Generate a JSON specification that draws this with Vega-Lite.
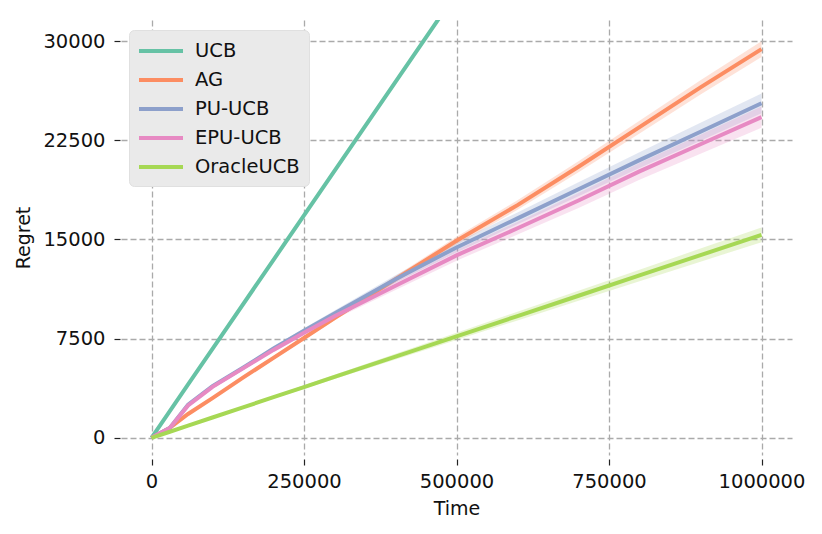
{
  "$schema": "https://vega.github.io/schema/vega-lite/v6.json",
  "autosize": {"type": "none"},
  "padding": {"left": 121, "top": 20, "right": 30, "bottom": 79},
  "width": 671,
  "height": 435,
  "background": "white",
  "config": {
    "font": "DejaVu Sans",
    "view": {"stroke": null},
    "axis": {
      "domain": false,
      "grid": true,
      "gridColor": "#aaaaaa",
      "gridDash": [6, 3],
      "gridWidth": 1.3,
      "tickColor": "#222222",
      "tickSize": 6,
      "tickWidth": 1.2,
      "labelFont": "DejaVu Sans",
      "labelFontSize": 19.5,
      "labelColor": "#111111",
      "titleFont": "DejaVu Sans",
      "titleFontSize": 19,
      "titleFontWeight": "normal",
      "titleColor": "#111111"
    }
  },
  "data": {
    "values": [
      {"algo": "UCB", "t": 0, "mean": 0, "lo": 0, "hi": 0},
      {"algo": "UCB", "t": 30000, "mean": 2019, "lo": 2011, "hi": 2027},
      {"algo": "UCB", "t": 60000, "mean": 4038, "lo": 4023, "hi": 4053},
      {"algo": "UCB", "t": 100000, "mean": 6730, "lo": 6705, "hi": 6755},
      {"algo": "UCB", "t": 200000, "mean": 13460, "lo": 13410, "hi": 13510},
      {"algo": "UCB", "t": 300000, "mean": 20190, "lo": 20115, "hi": 20265},
      {"algo": "UCB", "t": 400000, "mean": 26920, "lo": 26820, "hi": 27020},
      {"algo": "UCB", "t": 500000, "mean": 33650, "lo": 33525, "hi": 33775},

      {"algo": "AG", "t": 0, "mean": 0, "lo": 0, "hi": 0},
      {"algo": "AG", "t": 30000, "mean": 750, "lo": 732, "hi": 768},
      {"algo": "AG", "t": 60000, "mean": 1800, "lo": 1764, "hi": 1836},
      {"algo": "AG", "t": 100000, "mean": 3000, "lo": 2940, "hi": 3060},
      {"algo": "AG", "t": 150000, "mean": 4550, "lo": 4460, "hi": 4640},
      {"algo": "AG", "t": 200000, "mean": 6050, "lo": 5930, "hi": 6170},
      {"algo": "AG", "t": 250000, "mean": 7550, "lo": 7400, "hi": 7700},
      {"algo": "AG", "t": 300000, "mean": 9050, "lo": 8870, "hi": 9230},
      {"algo": "AG", "t": 400000, "mean": 12000, "lo": 11760, "hi": 12240},
      {"algo": "AG", "t": 500000, "mean": 14900, "lo": 14600, "hi": 15200},
      {"algo": "AG", "t": 600000, "mean": 17600, "lo": 17240, "hi": 17960},
      {"algo": "AG", "t": 700000, "mean": 20500, "lo": 20080, "hi": 20920},
      {"algo": "AG", "t": 800000, "mean": 23500, "lo": 23020, "hi": 23980},
      {"algo": "AG", "t": 900000, "mean": 26500, "lo": 25960, "hi": 27040},
      {"algo": "AG", "t": 1000000, "mean": 29400, "lo": 28800, "hi": 30000},

      {"algo": "PU-UCB", "t": 0, "mean": 0, "lo": 0, "hi": 0},
      {"algo": "PU-UCB", "t": 30000, "mean": 750, "lo": 728, "hi": 772},
      {"algo": "PU-UCB", "t": 60000, "mean": 2500, "lo": 2455, "hi": 2545},
      {"algo": "PU-UCB", "t": 100000, "mean": 3900, "lo": 3825, "hi": 3975},
      {"algo": "PU-UCB", "t": 150000, "mean": 5300, "lo": 5188, "hi": 5412},
      {"algo": "PU-UCB", "t": 200000, "mean": 6750, "lo": 6600, "hi": 6900},
      {"algo": "PU-UCB", "t": 250000, "mean": 8100, "lo": 7912, "hi": 8288},
      {"algo": "PU-UCB", "t": 300000, "mean": 9400, "lo": 9175, "hi": 9625},
      {"algo": "PU-UCB", "t": 400000, "mean": 12000, "lo": 11700, "hi": 12300},
      {"algo": "PU-UCB", "t": 500000, "mean": 14400, "lo": 14025, "hi": 14775},
      {"algo": "PU-UCB", "t": 600000, "mean": 16600, "lo": 16150, "hi": 17050},
      {"algo": "PU-UCB", "t": 700000, "mean": 18800, "lo": 18275, "hi": 19325},
      {"algo": "PU-UCB", "t": 800000, "mean": 21000, "lo": 20400, "hi": 21600},
      {"algo": "PU-UCB", "t": 900000, "mean": 23150, "lo": 22475, "hi": 23825},
      {"algo": "PU-UCB", "t": 1000000, "mean": 25300, "lo": 24550, "hi": 26050},

      {"algo": "EPU-UCB", "t": 0, "mean": 0, "lo": 0, "hi": 0},
      {"algo": "EPU-UCB", "t": 30000, "mean": 750, "lo": 726, "hi": 774},
      {"algo": "EPU-UCB", "t": 60000, "mean": 2450, "lo": 2402, "hi": 2498},
      {"algo": "EPU-UCB", "t": 100000, "mean": 3850, "lo": 3770, "hi": 3930},
      {"algo": "EPU-UCB", "t": 150000, "mean": 5250, "lo": 5130, "hi": 5370},
      {"algo": "EPU-UCB", "t": 200000, "mean": 6650, "lo": 6490, "hi": 6810},
      {"algo": "EPU-UCB", "t": 250000, "mean": 7950, "lo": 7750, "hi": 8150},
      {"algo": "EPU-UCB", "t": 300000, "mean": 9200, "lo": 8960, "hi": 9440},
      {"algo": "EPU-UCB", "t": 400000, "mean": 11500, "lo": 11180, "hi": 11820},
      {"algo": "EPU-UCB", "t": 500000, "mean": 13800, "lo": 13400, "hi": 14200},
      {"algo": "EPU-UCB", "t": 600000, "mean": 15850, "lo": 15370, "hi": 16330},
      {"algo": "EPU-UCB", "t": 700000, "mean": 17950, "lo": 17390, "hi": 18510},
      {"algo": "EPU-UCB", "t": 800000, "mean": 20150, "lo": 19510, "hi": 20790},
      {"algo": "EPU-UCB", "t": 900000, "mean": 22200, "lo": 21480, "hi": 22920},
      {"algo": "EPU-UCB", "t": 1000000, "mean": 24250, "lo": 23450, "hi": 25050},

      {"algo": "OracleUCB", "t": 0, "mean": 0, "lo": 0, "hi": 0},
      {"algo": "OracleUCB", "t": 30000, "mean": 460, "lo": 444, "hi": 476},
      {"algo": "OracleUCB", "t": 60000, "mean": 921, "lo": 888, "hi": 954},
      {"algo": "OracleUCB", "t": 100000, "mean": 1535, "lo": 1480, "hi": 1590},
      {"algo": "OracleUCB", "t": 150000, "mean": 2300, "lo": 2218, "hi": 2382},
      {"algo": "OracleUCB", "t": 200000, "mean": 3070, "lo": 2960, "hi": 3180},
      {"algo": "OracleUCB", "t": 250000, "mean": 3840, "lo": 3702, "hi": 3978},
      {"algo": "OracleUCB", "t": 300000, "mean": 4605, "lo": 4440, "hi": 4770},
      {"algo": "OracleUCB", "t": 400000, "mean": 6140, "lo": 5920, "hi": 6360},
      {"algo": "OracleUCB", "t": 500000, "mean": 7675, "lo": 7400, "hi": 7950},
      {"algo": "OracleUCB", "t": 600000, "mean": 9210, "lo": 8880, "hi": 9540},
      {"algo": "OracleUCB", "t": 700000, "mean": 10745, "lo": 10360, "hi": 11130},
      {"algo": "OracleUCB", "t": 800000, "mean": 12280, "lo": 11840, "hi": 12720},
      {"algo": "OracleUCB", "t": 900000, "mean": 13815, "lo": 13320, "hi": 14310},
      {"algo": "OracleUCB", "t": 1000000, "mean": 15350, "lo": 14800, "hi": 15900}
    ]
  },
  "encoding": {
    "x": {
      "field": "t",
      "type": "quantitative",
      "title": "Time",
      "scale": {"domain": [-50000, 1050000], "nice": false, "zero": false},
      "axis": {
        "values": [0, 250000, 500000, 750000, 1000000],
        "format": "d",
        "offset": 4,
        "labelPadding": 7,
        "titlePadding": 9
      }
    },
    "color": {
      "field": "algo",
      "type": "nominal",
      "scale": {
        "domain": ["UCB", "AG", "PU-UCB", "EPU-UCB", "OracleUCB"],
        "range": ["#66c2a5", "#fc8d62", "#8da0cb", "#e78ac3", "#a6d854"]
      },
      "legend": {
        "title": null,
        "orient": "none",
        "legendX": 8,
        "legendY": 10,
        "fillColor": "#eaeaea",
        "strokeColor": "#e0e0e0",
        "cornerRadius": 5,
        "padding": 9,
        "symbolType": "M-2.2,0H2.2",
        "symbolSize": 400,
        "symbolStrokeWidth": 4,
        "symbolOpacity": 1,
        "symbolOffset": 11,
        "labelFont": "DejaVu Sans",
        "labelFontSize": 19.5,
        "labelColor": "#111111",
        "labelOffset": 22,
        "rowPadding": 7
      }
    }
  },
  "layer": [
    {
      "mark": {"type": "area", "opacity": 0.25, "clip": true},
      "encoding": {
        "y": {
          "field": "lo",
          "type": "quantitative",
          "scale": {"domain": [-1300, 31600], "nice": false, "zero": false},
          "title": "Regret",
          "axis": {
            "values": [0, 7500, 15000, 22500, 30000],
            "format": "d",
            "offset": 1,
            "labelPadding": 9,
            "titlePadding": 9
          }
        },
        "y2": {"field": "hi"}
      }
    },
    {
      "mark": {"type": "line", "strokeWidth": 4, "clip": true},
      "encoding": {
        "y": {"field": "mean", "type": "quantitative"}
      }
    }
  ]
}
